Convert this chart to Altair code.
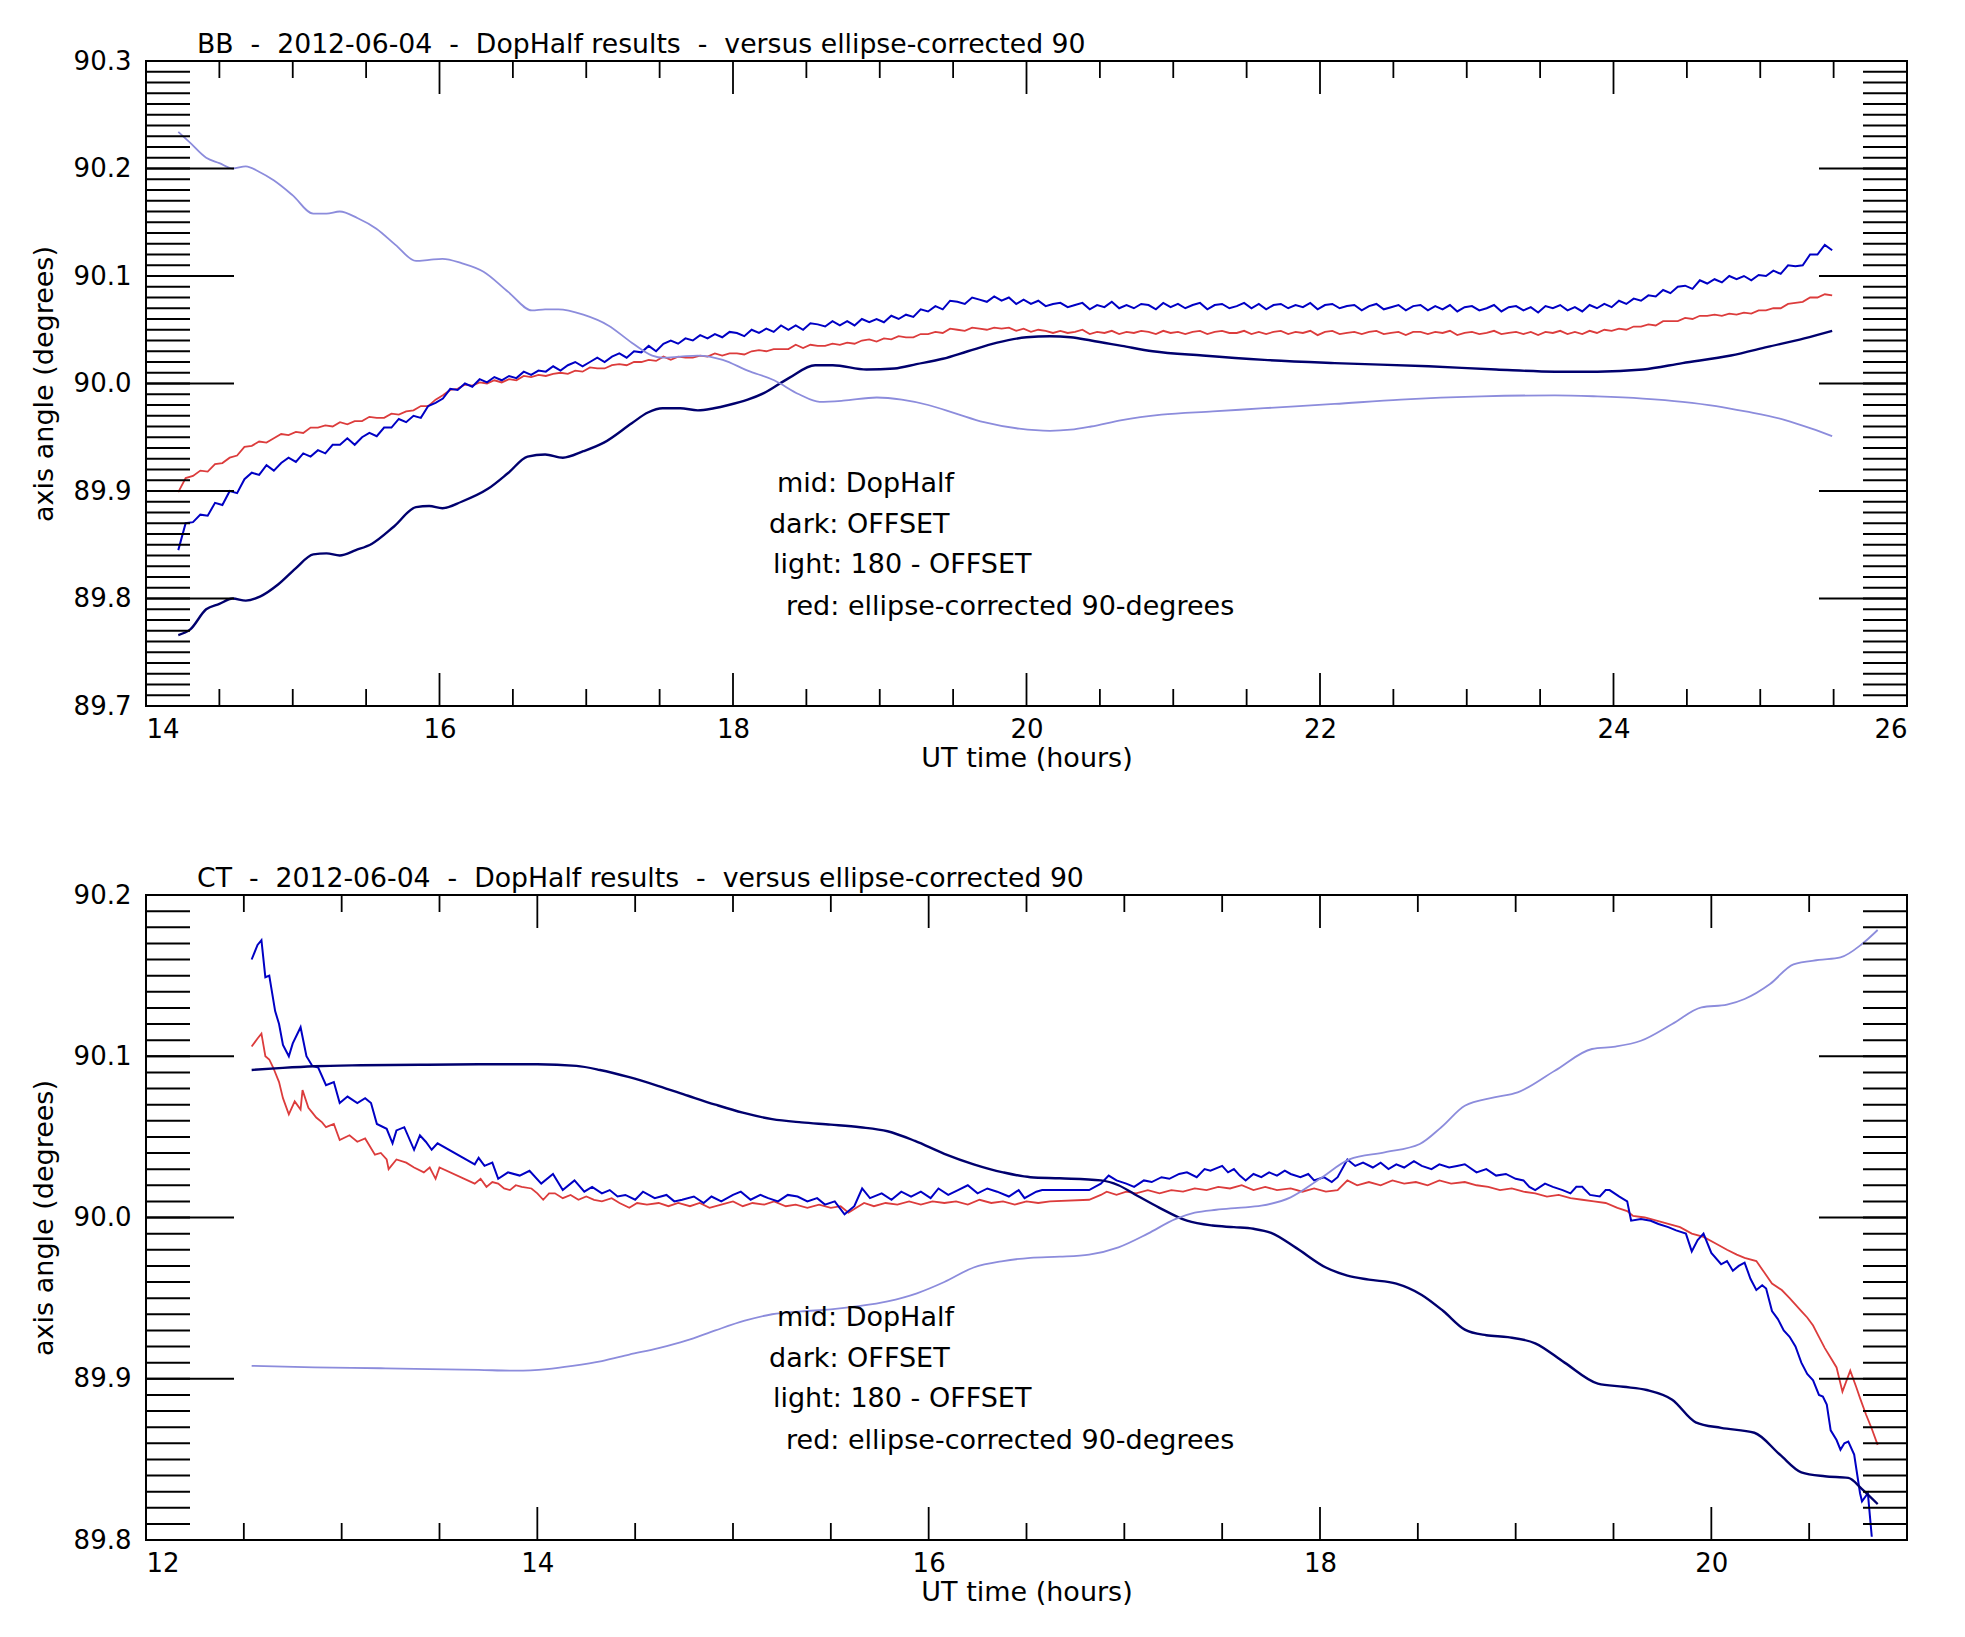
import altair as alt
import pandas as pd

FONT = "DejaVu Sans"
C_MID = "#0000c4"
C_DARK = "#00006e"
C_LIGHT = "#8c8cdc"
C_RED = "#dc3c3c"

# ---------------- BB panel (top) ----------------
bb_title = "BB\u00a0 -\u00a0 2012-06-04\u00a0 -\u00a0 DopHalf results\u00a0 -\u00a0 versus ellipse-corrected 90"
bb_x_domain = [14, 26]
bb_y_domain = [89.7, 90.3]
bb_x_labels = [14, 16, 18, 20, 22, 24, 26]
bb_y_labels = [89.7, 89.8, 89.9, 90.0, 90.1, 90.2, 90.3]

bb_mid_v = [89.845, 89.870, 89.871, 89.878, 89.877, 89.889, 89.887, 89.900, 89.898, 89.911,
            89.917, 89.915, 89.924, 89.919, 89.926, 89.931, 89.927, 89.935, 89.932, 89.938,
            89.935, 89.943, 89.943, 89.949, 89.943, 89.950, 89.954, 89.951, 89.959, 89.959,
            89.967, 89.964, 89.970, 89.968, 89.979, 89.982, 89.986, 89.995, 89.994, 90.000,
            89.997, 90.004, 90.001, 90.006, 90.003, 90.007, 90.005, 90.011, 90.008, 90.012,
            90.011, 90.016, 90.012, 90.017, 90.020, 90.016, 90.020, 90.024, 90.020, 90.025,
            90.028, 90.024, 90.030, 90.029, 90.035, 90.030, 90.037, 90.040, 90.037, 90.042,
            90.040, 90.045, 90.042, 90.046, 90.043, 90.048, 90.047, 90.044, 90.050, 90.047,
            90.051, 90.048, 90.054, 90.050, 90.054, 90.050, 90.056, 90.055, 90.053, 90.058,
            90.054, 90.058, 90.054, 90.060, 90.057, 90.060, 90.057, 90.063, 90.060, 90.064,
            90.062, 90.069, 90.067, 90.072, 90.069, 90.077, 90.076, 90.074, 90.080, 90.078,
            90.076, 90.081, 90.077, 90.080, 90.074, 90.078, 90.074, 90.077, 90.072, 90.074,
            90.075, 90.071, 90.073, 90.075, 90.069, 90.073, 90.071, 90.076, 90.070, 90.073,
            90.070, 90.074, 90.073, 90.069, 90.075, 90.071, 90.074, 90.070, 90.073, 90.075,
            90.069, 90.073, 90.074, 90.070, 90.072, 90.075, 90.070, 90.074, 90.069, 90.073,
            90.074, 90.070, 90.073, 90.071, 90.075, 90.069, 90.073, 90.074, 90.070, 90.072,
            90.073, 90.068, 90.072, 90.074, 90.069, 90.071, 90.073, 90.068, 90.072, 90.073,
            90.068, 90.072, 90.069, 90.073, 90.067, 90.071, 90.072, 90.068, 90.070, 90.073,
            90.067, 90.071, 90.072, 90.068, 90.071, 90.066, 90.072, 90.070, 90.073, 90.068,
            90.071, 90.067, 90.073, 90.070, 90.074, 90.071, 90.077, 90.074, 90.079, 90.077,
            90.082, 90.081, 90.087, 90.084, 90.090, 90.091, 90.088, 90.096, 90.093, 90.097,
            90.094, 90.100, 90.097, 90.100, 90.096, 90.101, 90.100, 90.105, 90.102, 90.110,
            90.109, 90.110, 90.120, 90.120, 90.129, 90.124]
bb_red_v = [89.899, 89.912, 89.914, 89.919, 89.918, 89.925, 89.926, 89.931, 89.933, 89.941,
            89.942, 89.946, 89.945, 89.949, 89.953, 89.952, 89.955, 89.954, 89.959, 89.959,
            89.961, 89.960, 89.964, 89.962, 89.965, 89.965, 89.969, 89.968, 89.968, 89.972,
            89.971, 89.974, 89.975, 89.979, 89.979, 89.985, 89.989, 89.994, 89.995, 89.999,
            89.998, 90.001, 90.000, 90.003, 90.001, 90.004, 90.003, 90.007, 90.006, 90.008,
            90.007, 90.009, 90.010, 90.009, 90.012, 90.011, 90.015, 90.014, 90.014, 90.017,
            90.018, 90.017, 90.020, 90.020, 90.022, 90.021, 90.025, 90.022, 90.025, 90.024,
            90.024, 90.026, 90.025, 90.028, 90.026, 90.028, 90.028, 90.027, 90.030, 90.031,
            90.030, 90.032, 90.032, 90.032, 90.036, 90.033, 90.036, 90.035, 90.035, 90.037,
            90.036, 90.038, 90.037, 90.040, 90.041, 90.039, 90.042, 90.041, 90.044, 90.043,
            90.043, 90.046, 90.046, 90.048, 90.047, 90.051, 90.050, 90.049, 90.052, 90.051,
            90.050, 90.052, 90.051, 90.052, 90.049, 90.051, 90.048, 90.050, 90.049, 90.047,
            90.049, 90.047, 90.048, 90.050, 90.046, 90.048, 90.047, 90.049, 90.046, 90.048,
            90.047, 90.049, 90.048, 90.046, 90.049, 90.047, 90.048, 90.046, 90.048, 90.049,
            90.046, 90.048, 90.049, 90.047, 90.047, 90.049, 90.046, 90.048, 90.046, 90.048,
            90.049, 90.046, 90.048, 90.047, 90.049, 90.045, 90.048, 90.049, 90.046, 90.047,
            90.048, 90.046, 90.048, 90.049, 90.046, 90.047, 90.048, 90.045, 90.048, 90.048,
            90.046, 90.048, 90.047, 90.049, 90.045, 90.047, 90.048, 90.046, 90.047, 90.049,
            90.046, 90.047, 90.048, 90.046, 90.048, 90.045, 90.048, 90.047, 90.049, 90.046,
            90.048, 90.046, 90.049, 90.047, 90.050, 90.049, 90.051, 90.050, 90.053, 90.053,
            90.055, 90.054, 90.058, 90.058, 90.058, 90.061, 90.060, 90.063, 90.063, 90.064,
            90.063, 90.065, 90.064, 90.066, 90.065, 90.068, 90.068, 90.070, 90.070, 90.074,
            90.075, 90.076, 90.080, 90.080, 90.083, 90.082]
# sampling times of the two noisy BB series (evenly spaced, 14.22 h .. 25.49 h)
bb_noisy_t = [round(14.22 + i * (25.49 - 14.22) / (len(bb_mid_v) - 1), 4) for i in range(len(bb_mid_v))]

bb_dark_t = [14.22, 14.30, 14.41, 14.50, 14.59, 14.68, 14.78, 14.90, 15.02, 15.14,
             15.23, 15.32, 15.43, 15.54, 15.69, 15.84, 15.93, 16.02, 16.15, 16.33,
             16.47, 16.60, 16.72, 16.84, 16.98, 17.12, 17.31, 17.42, 17.52, 17.64,
             17.76, 17.87, 17.97, 18.10, 18.21, 18.38, 18.56, 18.68, 18.91, 19.10,
             19.25, 19.43, 19.60, 19.80, 20.00, 20.16, 20.30, 20.44, 20.65, 20.86,
             21.20, 21.62, 22.10, 22.74, 23.20, 23.60, 23.89, 24.20, 24.47, 24.80,
             25.05, 25.30, 25.49]
bb_dark_v = [89.766, 89.771, 89.790, 89.795, 89.800, 89.798, 89.802, 89.813, 89.828, 89.841,
             89.842, 89.840, 89.845, 89.851, 89.867, 89.885, 89.886, 89.884, 89.890, 89.902,
             89.917, 89.932, 89.934, 89.931, 89.937, 89.945, 89.963, 89.973, 89.977, 89.977,
             89.975, 89.977, 89.980, 89.985, 89.991, 90.005, 90.017, 90.017, 90.013, 90.014,
             90.018, 90.023, 90.030, 90.038, 90.043, 90.044, 90.043, 90.040, 90.035, 90.030,
             90.026, 90.022, 90.019, 90.016, 90.013, 90.011, 90.011, 90.013, 90.019, 90.026,
             90.034, 90.042, 90.049]

bb_light_t = [14.22, 14.30, 14.41, 14.50, 14.59, 14.68, 14.77, 14.87, 15.00, 15.14,
              15.23, 15.32, 15.44, 15.57, 15.70, 15.84, 15.93, 16.02, 16.15, 16.30,
              16.47, 16.63, 16.72, 16.81, 16.98, 17.15, 17.31, 17.45, 17.52, 17.64,
              17.76, 17.93, 18.10, 18.28, 18.45, 18.59, 18.75, 18.98, 19.15, 19.33,
              19.52, 19.71, 19.95, 20.16, 20.30, 20.44, 20.65, 20.92, 21.27, 21.62,
              22.10, 22.55, 23.10, 23.60, 23.89, 24.20, 24.47, 24.70, 24.90, 25.17,
              25.35, 25.49]
bb_light_v = [90.234, 90.224, 90.210, 90.205, 90.200, 90.202, 90.197, 90.189, 90.175, 90.158,
              90.158, 90.160, 90.154, 90.144, 90.129, 90.114, 90.115, 90.116, 90.112, 90.104,
              90.085, 90.068, 90.069, 90.069, 90.064, 90.054, 90.038, 90.026, 90.024, 90.025,
              90.026, 90.022, 90.012, 90.003, 89.990, 89.983, 89.984, 89.987, 89.985, 89.980,
              89.972, 89.964, 89.958, 89.956, 89.957, 89.960, 89.966, 89.971, 89.974, 89.977,
              89.981, 89.985, 89.988, 89.989, 89.988, 89.986, 89.983, 89.979, 89.974, 89.966,
              89.958, 89.951]

# ---------------- CT panel (bottom) ----------------
ct_title = "CT\u00a0 -\u00a0 2012-06-04\u00a0 -\u00a0 DopHalf results\u00a0 -\u00a0 versus ellipse-corrected 90"
ct_x_domain = [12, 21]
ct_y_domain = [89.8, 90.2]
ct_x_labels = [12, 14, 16, 18, 20]
ct_y_labels = [89.8, 89.9, 90.0, 90.1, 90.2]

ct_mid_t = [12.54, 12.57, 12.59, 12.61, 12.63, 12.66, 12.68, 12.70, 12.73, 12.75,
            12.79, 12.82, 12.85, 12.88, 12.92, 12.96, 12.99, 13.03, 13.08, 13.12,
            13.15, 13.18, 13.23, 13.26, 13.28, 13.32, 13.37, 13.40, 13.43, 13.46,
            13.49, 13.68, 13.70, 13.73, 13.77, 13.80, 13.85, 13.91, 13.96, 14.02,
            14.08, 14.13, 14.19, 14.24, 14.28, 14.33, 14.37, 14.41, 14.45, 14.50,
            14.54, 14.60, 14.66, 14.70, 14.74, 14.80, 14.85, 14.89, 14.94, 15.00,
            15.04, 15.09, 15.14, 15.18, 15.23, 15.28, 15.33, 15.38, 15.43, 15.47,
            15.52, 15.57, 15.62, 15.66, 15.70, 15.76, 15.81, 15.86, 15.91, 15.96,
            16.01, 16.05, 16.10, 16.15, 16.20, 16.25, 16.30, 16.35, 16.41, 16.46,
            16.49, 16.55, 16.58, 16.82, 16.88, 16.92, 16.96, 17.01, 17.05, 17.10,
            17.14, 17.19, 17.23, 17.28, 17.32, 17.37, 17.41, 17.44, 17.50, 17.53,
            17.56, 17.59, 17.62, 17.66, 17.70, 17.74, 17.78, 17.82, 17.85, 17.90,
            17.94, 17.97, 18.02, 18.06, 18.09, 18.14, 18.18, 18.22, 18.27, 18.31,
            18.35, 18.39, 18.43, 18.48, 18.52, 18.57, 18.61, 18.66, 18.70, 18.74,
            18.80, 18.85, 18.90, 18.95, 19.00, 19.04, 19.07, 19.10, 19.15, 19.19,
            19.24, 19.28, 19.31, 19.34, 19.38, 19.43, 19.46, 19.48, 19.53, 19.57,
            19.59, 19.64, 19.69, 19.73, 19.78, 19.82, 19.87, 19.90, 19.93, 19.96,
            20.00, 20.05, 20.08, 20.11, 20.14, 20.17, 20.20, 20.23, 20.26, 20.28,
            20.31, 20.34, 20.37, 20.40, 20.43, 20.46, 20.49, 20.52, 20.55, 20.57,
            20.59, 20.61, 20.64, 20.66, 20.68, 20.70, 20.73, 20.76, 20.77, 20.80,
            20.82]
ct_mid_v = [90.160, 90.169, 90.172, 90.149, 90.150, 90.128, 90.120, 90.107, 90.100, 90.108,
            90.118, 90.100, 90.094, 90.093, 90.082, 90.084, 90.071, 90.075, 90.071, 90.074,
            90.071, 90.058, 90.055, 90.046, 90.054, 90.056, 90.042, 90.051, 90.047, 90.042,
            90.046, 90.033, 90.037, 90.032, 90.034, 90.024, 90.028, 90.026, 90.029, 90.021,
            90.027, 90.017, 90.023, 90.016, 90.019, 90.015, 90.017, 90.013, 90.014, 90.011,
            90.016, 90.012, 90.014, 90.010, 90.011, 90.013, 90.009, 90.013, 90.010, 90.014,
            90.016, 90.011, 90.014, 90.012, 90.010, 90.014, 90.013, 90.010, 90.012, 90.008,
            90.010, 90.002, 90.007, 90.018, 90.012, 90.015, 90.011, 90.016, 90.013, 90.016,
            90.012, 90.018, 90.014, 90.017, 90.020, 90.015, 90.018, 90.016, 90.013, 90.017,
            90.012, 90.016, 90.017, 90.017, 90.021, 90.026, 90.023, 90.021, 90.019, 90.023,
            90.022, 90.025, 90.024, 90.027, 90.028, 90.025, 90.030, 90.029, 90.032, 90.028,
            90.030, 90.026, 90.023, 90.027, 90.025, 90.028, 90.026, 90.029, 90.027, 90.025,
            90.027, 90.023, 90.025, 90.022, 90.025, 90.036, 90.032, 90.034, 90.031, 90.034,
            90.030, 90.033, 90.031, 90.035, 90.032, 90.030, 90.033, 90.031, 90.032, 90.033,
            90.028, 90.030, 90.026, 90.027, 90.024, 90.023, 90.019, 90.017, 90.021, 90.019,
            90.017, 90.015, 90.019, 90.019, 90.014, 90.013, 90.017, 90.017, 90.013, 90.010,
            89.998, 89.999, 89.998, 89.996, 89.994, 89.992, 89.990, 89.979, 89.986, 89.990,
            89.978, 89.971, 89.973, 89.967, 89.970, 89.972, 89.962, 89.955, 89.958, 89.956,
            89.942, 89.937, 89.930, 89.926, 89.920, 89.910, 89.903, 89.899, 89.890, 89.889,
            89.884, 89.868, 89.862, 89.856, 89.860, 89.861, 89.853, 89.829, 89.824, 89.829,
            89.802]

ct_red_t = [12.54, 12.57, 12.59, 12.61, 12.63, 12.65, 12.68, 12.70, 12.73, 12.76,
            12.79, 12.80, 12.83, 12.85, 12.87, 12.90, 12.92, 12.96, 12.99, 13.04,
            13.08, 13.12, 13.17, 13.20, 13.23, 13.24, 13.28, 13.33, 13.37, 13.42,
            13.45, 13.48, 13.50, 13.68, 13.71, 13.74, 13.77, 13.80, 13.83, 13.86,
            13.89, 13.92, 13.97, 14.00, 14.03, 14.06, 14.09, 14.13, 14.17, 14.21,
            14.25, 14.29, 14.33, 14.38, 14.42, 14.47, 14.51, 14.56, 14.62, 14.67,
            14.72, 14.78, 14.83, 14.88, 14.94, 15.00, 15.05, 15.10, 15.16, 15.21,
            15.27, 15.32, 15.38, 15.44, 15.50, 15.55, 15.59, 15.63, 15.67, 15.72,
            15.78, 15.84, 15.90, 15.96, 16.02, 16.08, 16.14, 16.20, 16.26, 16.32,
            16.38, 16.44, 16.50, 16.56, 16.62, 16.82, 16.88, 16.91, 16.96, 17.01,
            17.06, 17.12, 17.18, 17.24, 17.30, 17.36, 17.42, 17.48, 17.54, 17.60,
            17.66, 17.72, 17.78, 17.85, 17.91, 17.97, 18.03, 18.09, 18.14, 18.19,
            18.25, 18.31, 18.37, 18.43, 18.49, 18.55, 18.61, 18.67, 18.74, 18.80,
            18.86, 18.92, 18.98, 19.04, 19.10, 19.16, 19.22, 19.28, 19.34, 19.40,
            19.46, 19.52, 19.57, 19.60, 19.66, 19.72, 19.78, 19.84, 19.90, 19.96,
            20.02, 20.08, 20.13, 20.17, 20.23, 20.27, 20.31, 20.36, 20.40, 20.43,
            20.46, 20.49, 20.52, 20.55, 20.58, 20.61, 20.64, 20.67, 20.71, 20.74,
            20.76, 20.79, 20.82, 20.85]
ct_red_v = [90.106, 90.111, 90.114, 90.100, 90.098, 90.093, 90.084, 90.074, 90.064, 90.072,
            90.067, 90.079, 90.068, 90.065, 90.062, 90.059, 90.056, 90.058, 90.048, 90.051,
            90.047, 90.049, 90.039, 90.040, 90.036, 90.030, 90.036, 90.034, 90.031, 90.028,
            90.031, 90.024, 90.031, 90.021, 90.024, 90.019, 90.022, 90.021, 90.018, 90.017,
            90.020, 90.019, 90.018, 90.015, 90.011, 90.015, 90.015, 90.012, 90.014, 90.011,
            90.013, 90.011, 90.010, 90.012, 90.009, 90.006, 90.009, 90.008, 90.009, 90.007,
            90.009, 90.007, 90.009, 90.006, 90.008, 90.010, 90.007, 90.009, 90.008, 90.010,
            90.007, 90.008, 90.006, 90.008, 90.006, 90.007, 90.003, 90.006, 90.009, 90.007,
            90.009, 90.008, 90.010, 90.008, 90.010, 90.009, 90.010, 90.008, 90.011, 90.009,
            90.010, 90.008, 90.010, 90.009, 90.010, 90.011, 90.014, 90.016, 90.014, 90.016,
            90.015, 90.017, 90.015, 90.017, 90.016, 90.018, 90.017, 90.019, 90.018, 90.020,
            90.017, 90.019, 90.017, 90.018, 90.016, 90.018, 90.016, 90.017, 90.023, 90.020,
            90.022, 90.020, 90.023, 90.021, 90.022, 90.020, 90.023, 90.021, 90.022, 90.020,
            90.019, 90.017, 90.018, 90.016, 90.015, 90.013, 90.014, 90.012, 90.011, 90.010,
            90.009, 90.006, 90.004, 90.001, 90.000, 89.998, 89.996, 89.994, 89.990, 89.988,
            89.984, 89.980, 89.977, 89.975, 89.973, 89.966, 89.959, 89.955, 89.950, 89.946,
            89.942, 89.938, 89.933, 89.926, 89.919, 89.913, 89.907, 89.892, 89.905, 89.895,
            89.888, 89.878, 89.869, 89.859]

ct_dark_t = [12.54, 12.70, 12.86, 13.10, 13.40, 13.74, 14.00, 14.20, 14.32, 14.47,
             14.62, 14.77, 14.91, 15.05, 15.20, 15.35, 15.50, 15.65, 15.79, 15.93,
             16.08, 16.23, 16.38, 16.52, 16.67, 16.88, 16.97, 17.05, 17.18, 17.32,
             17.45, 17.56, 17.66, 17.75, 17.88, 18.03, 18.14, 18.25, 18.39, 18.52,
             18.63, 18.74, 18.85, 18.96, 19.10, 19.25, 19.42, 19.55, 19.67, 19.80,
             19.92, 20.05, 20.22, 20.35, 20.46, 20.58, 20.70, 20.77, 20.85]
ct_dark_v = [90.0915, 90.0928, 90.0938, 90.0944, 90.0947, 90.0950, 90.0950, 90.0940, 90.0915, 90.0870,
             90.0815, 90.0755, 90.0700, 90.0650, 90.0610, 90.0590, 90.0576, 90.0560, 90.0535, 90.0475,
             90.0395, 90.0330, 90.0280, 90.0250, 90.0243, 90.0230, 90.0200, 90.0146, 90.0060, 89.9980,
             89.9950, 89.9940, 89.9930, 89.9905, 89.9810, 89.9690, 89.9640, 89.9615, 89.9590, 89.9520,
             89.9420, 89.9305, 89.9270, 89.9258, 89.9220, 89.9100, 89.8970, 89.8950, 89.8930, 89.8870,
             89.8730, 89.8695, 89.8665, 89.8530, 89.8420, 89.8395, 89.8385, 89.8316, 89.8223]

ct_light_t = [12.54, 12.86, 13.20, 13.45, 13.70, 13.89, 14.05, 14.18, 14.33, 14.47,
              14.62, 14.76, 14.91, 15.06, 15.20, 15.35, 15.50, 15.64, 15.79, 15.94,
              16.08, 16.23, 16.38, 16.52, 16.67, 16.82, 16.97, 17.12, 17.26, 17.36,
              17.47, 17.58, 17.70, 17.85, 18.00, 18.15, 18.33, 18.51, 18.62, 18.74,
              18.89, 19.01, 19.20, 19.39, 19.51, 19.64, 19.80, 19.95, 20.08, 20.17,
              20.30, 20.42, 20.55, 20.66, 20.77, 20.85]
ct_light_v = [89.908, 89.907, 89.9065, 89.906, 89.9055, 89.905, 89.906, 89.908, 89.911, 89.915,
              89.919, 89.9236, 89.930, 89.936, 89.940, 89.9418, 89.943, 89.945, 89.948, 89.953,
              89.960, 89.969, 89.973, 89.975, 89.9757, 89.977, 89.9815, 89.990, 89.999, 90.003,
              90.0048, 90.006, 90.0073, 90.0125, 90.024, 90.036, 90.0404, 90.0456, 90.056, 90.0693,
              90.0745, 90.0776, 90.091, 90.1045, 90.106, 90.1096, 90.120, 90.1303, 90.132, 90.1355,
              90.1448, 90.157, 90.1597, 90.1613, 90.1696, 90.1783]

legend_lines = ["mid: DopHalf", "dark: OFFSET", "light: 180 - OFFSET", "red: ellipse-corrected 90-degrees"]
bb_legend_x = [18.30, 18.245, 18.273, 18.361]
bb_legend_y = [89.899, 89.861, 89.824, 89.785]
ct_legend_x = [15.225, 15.184, 15.204, 15.271]
ct_legend_y = [89.933, 89.907, 89.8825, 89.8565]

# ---------------- drawing ----------------
W, H = 1761, 645
X_MAJ, X_MIN = 33, 17      # x tick lengths (px)
Y_MAJ, Y_MIN = 88, 44      # y tick lengths (px)


def half_hours(dom):
    return [dom[0] + 0.5 * i for i in range(1, int((dom[1] - dom[0]) * 2))]


def hundredths(dom):
    n = int(round((dom[1] - dom[0]) * 100))
    return [round(dom[0] + 0.01 * i, 2) for i in range(1, n)]


def panel(title, xdom, ydom, xlabels, ylabels, series, lx, ly):
    xs = alt.Scale(domain=xdom, nice=False, zero=False)
    ys = alt.Scale(domain=ydom, nice=False, zero=False)
    xaxis = alt.Axis(values=xlabels, format="d", ticks=False, domain=False, grid=False,
                     labelPadding=10, title="UT time (hours)",
                     titleBaseline="alphabetic", titleX=W / 2, titleY=60)
    yaxis = alt.Axis(values=ylabels, format=".1f", ticks=False, domain=False, grid=False,
                     labelPadding=15, title="axis angle (degrees)",
                     titleBaseline="alphabetic", titleX=-94, titleY=H / 2, titleAngle=270)

    def X(field):
        return alt.X(field, scale=xs, axis=xaxis)

    def Y(field):
        return alt.Y(field, scale=ys, axis=yaxis)

    layers = []
    for t, v, color, sw, interp in series:
        df = pd.DataFrame({"t": t, "v": v})
        layers.append(
            alt.Chart(df).mark_line(color=color, strokeWidth=sw, interpolate=interp)
            .encode(x=X("t:Q"), y=Y("v:Q"))
        )

    xmajor = [v for v in xlabels if xdom[0] < v < xdom[1]]
    xminor = [v for v in half_hours(xdom) if v not in xlabels]
    ymajor = [v for v in ylabels if ydom[0] < v < ydom[1]]
    yminor = hundredths(ydom)

    def xt(vals, a, b):
        return alt.Chart(pd.DataFrame({"p": vals})).mark_rule(color="black", strokeWidth=1.8).encode(
            x=X("p:Q"), y=alt.value(a), y2=alt.value(b))

    def yt(vals, a, b):
        return alt.Chart(pd.DataFrame({"p": vals})).mark_rule(color="black", strokeWidth=2).encode(
            y=Y("p:Q"), x=alt.value(a), x2=alt.value(b))

    layers += [
        xt(xmajor, H, H - X_MAJ), xt(xminor, H, H - X_MIN),
        xt(xmajor, 0, X_MAJ), xt(xminor, 0, X_MIN),
        yt(ymajor, 0, Y_MAJ), yt(yminor, 0, Y_MIN),
        yt(ymajor, W, W - Y_MAJ), yt(yminor, W, W - Y_MIN),
    ]

    leg = pd.DataFrame({"lx": lx, "ly": ly, "label": legend_lines})
    layers.append(
        alt.Chart(leg).mark_text(align="left", baseline="alphabetic", font=FONT, fontSize=27,
                                 color="black").encode(x=X("lx:Q"), y=Y("ly:Q"), text="label:N")
    )
    return alt.layer(*layers).properties(
        width=W, height=H,
        title=alt.TitleParams(text=title, anchor="start", frame="group", dx=51, offset=-32,
                              baseline="alphabetic", font=FONT, fontSize=26.7,
                              fontWeight="normal", color="black"),
    )


top = panel(bb_title, bb_x_domain, bb_y_domain, bb_x_labels, bb_y_labels,
            [(bb_noisy_t, bb_red_v, C_RED, 1.8, "linear"),
             (bb_noisy_t, bb_mid_v, C_MID, 2.0, "linear"),
             (bb_dark_t, bb_dark_v, C_DARK, 2.4, "monotone"),
             (bb_light_t, bb_light_v, C_LIGHT, 1.8, "monotone")],
            bb_legend_x, bb_legend_y)
bottom = panel(ct_title, ct_x_domain, ct_y_domain, ct_x_labels, ct_y_labels,
               [(ct_red_t, ct_red_v, C_RED, 1.8, "linear"),
                (ct_mid_t, ct_mid_v, C_MID, 2.0, "linear"),
                (ct_dark_t, ct_dark_v, C_DARK, 2.4, "monotone"),
                (ct_light_t, ct_light_v, C_LIGHT, 1.8, "monotone")],
               ct_legend_x, ct_legend_y)

chart = alt.vconcat(top, bottom, spacing=93).properties(
    padding={"left": 21, "top": 23, "right": 10, "bottom": 10},
    background="white",
).configure_axis(
    labelFont=FONT, labelFontSize=26, labelColor="black",
    titleFont=FONT, titleFontSize=27, titleFontWeight="normal", titleColor="black",
).configure_view(stroke="black", strokeWidth=2)

chart.save("out.html", embed_options={"renderer": "svg", "actions": False})
